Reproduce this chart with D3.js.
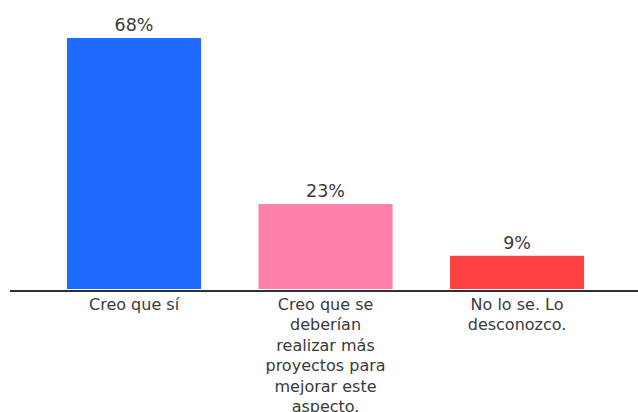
<!DOCTYPE html>
<html><head><meta charset="utf-8">
<script src="https://cdn.jsdelivr.net/npm/d3@7"></script>
<style>html,body{margin:0;padding:0;background:#fff;}svg{display:block;}</style>
</head><body>
<svg id="c" width="638" height="412"></svg>
<script>
const categories = ["Creo que sí", "Creo que se deberían realizar más proyectos para mejorar este aspecto.", "No lo se. Lo desconozco."];
const labelLines = [["Creo que sí"], ["Creo que se", "deberían", "realizar más", "proyectos para", "mejorar este", "aspecto."], ["No lo se. Lo", "desconozco."]];
const values = [68, 23, 9];
const colors = ["#1f6bff", "#ff80a8", "#ff4040"];

const svg = d3.select("#c");
const baseY = 289;
const x = d3.scaleBand().domain(categories).range([38.3, 612.8]).paddingInner(0.3).paddingOuter(0.15);
const y = d3.scaleLinear().domain([0, 68]).range([baseY, 38]);
const font = "'DejaVu Sans', sans-serif";

svg.selectAll("rect.bar").data(values).join("rect").attr("class","bar")
  .attr("x", (d,i) => x(categories[i]))
  .attr("width", x.bandwidth())
  .attr("y", d => y(d))
  .attr("height", d => baseY - y(d))
  .attr("fill", (d,i) => colors[i]);

svg.selectAll("text.val").data(values).join("text").attr("class","val")
  .attr("x", (d,i) => x(categories[i]) + x.bandwidth()/2)
  .attr("y", d => y(d) - 7)
  .attr("text-anchor","middle")
  .attr("font-family", font).attr("font-size", 17.5).attr("fill", "#3a3a3a")
  .text(d => d + "%");

svg.append("line").attr("x1", 10).attr("x2", 638).attr("y1", 291).attr("y2", 291)
  .attr("stroke", "#2b2f38").attr("stroke-width", 2);

const g = svg.selectAll("text.cat").data(categories).join("text").attr("class","cat")
  .attr("text-anchor","middle")
  .attr("font-family", font).attr("font-size", 16).attr("fill", "#3a3a3a");
g.each(function(c,i){
  const t = d3.select(this);
  labelLines[i].forEach((ln,j) => {
    t.append("tspan").attr("x", x(c) + x.bandwidth()/2).attr("y", 310 + j*20.4).text(ln);
  });
});
</script>
</body></html>
